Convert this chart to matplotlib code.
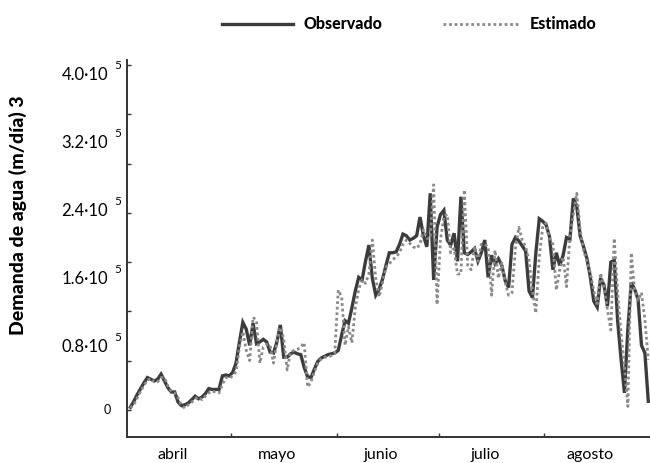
import matplotlib
matplotlib.use("Agg")
import matplotlib.pyplot as plt
import numpy as np
from matplotlib.lines import Line2D

# ---- data (units of 1e5 m3/day), daily from 1 April to 31 August ----
observado = [
    0.03, 0.10, 0.18, 0.25, 0.32, 0.38, 0.36, 0.34, 0.36, 0.42,
    0.34, 0.26, 0.21, 0.21, 0.09, 0.05, 0.06, 0.08, 0.12, 0.16,
    0.13, 0.15, 0.19, 0.25, 0.24, 0.24, 0.24, 0.40, 0.41, 0.40,
    0.44, 0.55, 0.80, 1.03, 0.95, 0.76, 1.02, 0.78, 0.80, 0.83,
    0.80, 0.68, 0.67, 0.80, 1.00, 0.62, 0.62, 0.66, 0.68, 0.66,
    0.65, 0.50, 0.39, 0.38, 0.48, 0.57, 0.61, 0.63, 0.65, 0.66,
    0.67, 0.70, 0.88, 1.05, 1.02, 1.20, 1.40, 1.56, 1.53, 1.75,
    1.94, 1.55, 1.35, 1.42, 1.54, 1.70, 1.85, 1.85, 1.86, 1.95,
    2.07, 2.05, 2.00, 2.02, 2.05, 2.27, 2.05, 1.92, 2.55, 1.53,
    2.15, 2.30, 2.35, 2.00, 1.94, 2.08, 1.75, 2.51, 1.85, 1.83,
    1.86, 1.90, 1.75, 1.85, 2.00, 1.56, 1.82, 1.72, 1.78, 1.70,
    1.52, 1.44, 1.95, 2.03, 1.99, 1.93, 1.87, 1.40, 1.32, 1.85,
    2.25, 2.22, 2.18, 2.04, 1.65, 1.85, 1.70, 1.82, 2.03, 2.01,
    2.49, 2.40, 2.05, 1.92, 1.78, 1.56, 1.28, 1.21, 1.55, 1.47,
    1.22, 1.74, 1.76, 1.05, 0.60, 0.20, 0.95, 1.50, 1.42, 1.30,
    0.76, 0.67, 0.10,
]
estimado = [
    0.02, 0.06, 0.14, 0.22, 0.29, 0.35, 0.37, 0.33, 0.33, 0.38,
    0.38, 0.28, 0.22, 0.20, 0.14, 0.05, 0.02, 0.06, 0.09, 0.13,
    0.15, 0.12, 0.16, 0.20, 0.22, 0.21, 0.20, 0.30, 0.38, 0.37,
    0.40, 0.45, 0.74, 0.92, 0.70, 0.58, 1.09, 1.05, 0.55, 0.74,
    0.77, 0.76, 0.55, 0.80, 0.97, 0.84, 0.47, 0.68, 0.70, 0.71,
    0.74, 0.79, 0.27, 0.33, 0.45, 0.55, 0.60, 0.62, 0.62, 0.64,
    0.67, 1.41, 1.33, 0.76, 0.98, 0.79, 1.20, 1.42, 1.53, 1.49,
    1.60, 2.00, 1.55, 1.33, 1.50, 1.68, 1.72, 1.77, 1.80, 1.85,
    1.95, 2.00, 1.96, 1.92, 1.90, 1.95, 2.12, 2.02, 2.02, 2.65,
    1.24, 2.00, 2.28, 2.30, 1.85, 1.90, 1.60, 1.60, 2.59, 1.70,
    1.65, 1.92, 1.75, 1.95, 1.95, 1.92, 1.35, 1.88, 1.55, 1.73,
    1.50, 1.35, 1.38, 1.90, 2.15, 2.00, 1.92, 1.76, 1.40, 1.14,
    1.80, 2.15, 2.20, 2.02, 1.95, 1.41, 1.65, 1.80, 1.45, 2.05,
    2.30, 2.55, 2.12, 1.88, 1.75, 1.61, 1.40, 1.25, 1.61, 1.45,
    1.18, 0.94, 2.02, 1.38, 0.90, 0.51, 0.04, 1.85, 1.40, 1.29,
    1.38, 1.06, 0.59,
]
meses = ["abril", "mayo", "junio", "julio", "agosto"]
dias_mes = [30, 31, 30, 31, 31]
ytick_vals = [0, 0.8, 1.6, 2.4, 3.2, 4.0]
ytick_labels = ["0", "0.8·10", "1.6·10", "2.4·10", "3.2·10", "4.0·10"]

FONT = ["Lato", "DejaVu Sans"]
plt.rcParams["font.family"] = FONT

fig = plt.figure(figsize=(6.5, 4.63), dpi=100)
ax = fig.add_axes([127 / 650, 26 / 463, 523 / 650, 377 / 463])

dias = np.arange(len(observado))
ax.plot(dias, observado, color="#3c3c3c", lw=2.4, solid_joinstyle="miter", zorder=2)
ax.plot(np.arange(len(estimado)), estimado, color="#8a8a8a", lw=2.0,
        linestyle=(0, (1, 1)), zorder=3)

ax.set_xlim(-1, 152.5)
ax.set_ylim(-0.32, 4.12)

for s in ["top", "right"]:
    ax.spines[s].set_visible(False)
for s in ["left", "bottom"]:
    ax.spines[s].set_color("#333333")
    ax.spines[s].set_linewidth(1.4)

# x axis: month boundaries as ticks, month names between
bounds = np.cumsum([0] + dias_mes)[:-1] - 0.5
ax.set_xticks(bounds[1:])
ax.set_xticklabels([])
ax.tick_params(axis="x", which="major", direction="in", length=3, width=1, color="#333333")
centers = [b + d / 2 - 2 for b, d in zip(bounds, dias_mes)]
ax.set_xticks(centers, minor=True)
ax.set_xticklabels(meses, minor=True, fontsize=11.5)
ax.tick_params(axis="x", which="minor", length=0, pad=8)

# y axis: small inward ticks, labels separate
ax.set_yticks(np.linspace(0, 4.06, 8))
ax.set_yticklabels([])
ax.tick_params(axis="y", which="major", direction="in", length=3, width=1, color="#333333")
for v, lab in zip(ytick_vals, ytick_labels):
    if lab == "0":
        ax.text(-0.03, v, lab, transform=ax.get_yaxis_transform(),
                ha="right", va="center", fontsize=9)
    else:
        ax.text(-0.036, v - 0.06, lab, transform=ax.get_yaxis_transform(),
                ha="right", va="center", fontsize=12)
        ax.text(-0.017, v + 0.05, "5", transform=ax.get_yaxis_transform(),
                ha="center", va="center", fontsize=8.5)

fig.text(18 / 650, 1 - 215 / 463, "Demanda de agua (m/día) 3", rotation=90,
         ha="center", va="center", fontsize=14, fontweight="black")

# legend drawn at top
ly = 1 - 24 / 463
fig.add_artist(Line2D([222 / 650, 293 / 650], [ly, ly], color="#3c3c3c", lw=2.4))
fig.text(304 / 650, ly, "Observado", ha="left", va="center", fontsize=11.5, fontweight="black")
fig.add_artist(Line2D([443 / 650, 519 / 650], [ly, ly], color="#8a8a8a", lw=2.0,
                      linestyle=(0, (1, 1))))
fig.text(530 / 650, ly, "Estimado", ha="left", va="center", fontsize=11.5, fontweight="black")

fig.savefig("out.png", dpi=100)
